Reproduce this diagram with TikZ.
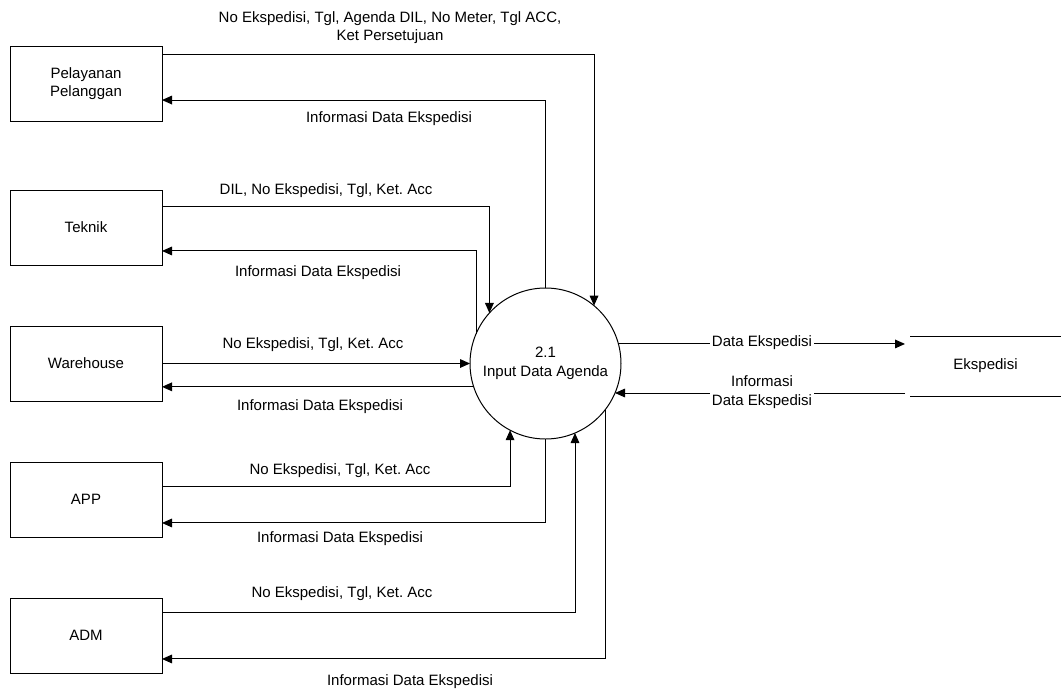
\documentclass[tikz,border=0pt]{standalone}
\usepackage{fontspec}
\setmainfont{Liberation Sans}
\usetikzlibrary{arrows.meta}
\frenchspacing
\begin{document}
\begin{tikzpicture}[x=0.75pt,y=-0.75pt,
  every node/.style={font=\fontsize{11.25}{14}\selectfont},
  entity/.style={draw, line width=0.75pt, minimum width=114pt, minimum height=56.25pt, inner sep=0pt, outer sep=0pt, align=center},
  proc/.style={draw, circle, line width=0.75pt, minimum size=113.25pt, inner sep=0pt, outer sep=0pt, align=center},
  flow/.style={line width=0.75pt, -{Triangle[length=7.5pt,width=6.5pt]}},
  lbl/.style={inner sep=1pt, align=center},
  onlbl/.style={inner sep=1.5pt, align=center, fill=white},
]
\useasboundingbox (0,0) rectangle (1061,693);
% entities
\node[entity] (pp) at (86,83.5) {Pelayanan\\Pelanggan};
\node[entity] (tk) at (86,227.5) {Teknik};
\node[entity] (wh) at (86,363.5) {Warehouse};
\node[entity] (app) at (86,499.5) {APP};
\node[entity] (adm) at (86,635.5) {ADM};
% process
\node[proc] (p) at (545.5,363.5) {2.1\\Input Data Agenda};
% data store
\node[minimum width=113.25pt, minimum height=45pt, inner sep=0pt, outer sep=0pt] (st) at (985.5,366) {Ekspedisi};
\draw[line width=0.75pt] (st.north west) -- (st.north east) (st.south west) -- (st.south east);
% flows
\draw[flow] ([yshift=-6pt]pp.north east) -| (p.50);
\draw[flow] (p.90) |- ([yshift=-12.4pt]pp.east);
\draw[flow] ([yshift=16.1pt]tk.east) -| (p.138.4);
\draw[flow] (p.157) |- ([yshift=-17.6pt]tk.east);
\draw[flow] (wh.east) -- (p.west);
\draw[flow] (p.198.1) -- (p.198.1 -| wh.east);
\draw[flow] ([yshift=9.4pt]app.east) -| (p.242.8);
\draw[flow] (p.270) |- ([yshift=-17.6pt]app.east);
\draw[flow] ([yshift=16.9pt]adm.east) -| (p.293);
\draw[flow] (p.323.2) |- ([yshift=-17.6pt]adm.east);
\coordinate (sin) at ([xshift=-3.75pt]p.15.75 -| st.west);
\coordinate (sout) at ([xshift=-3.75pt]p.337.8 -| st.west);
\draw[flow] (p.15.75) -- (sin);
\draw[flow] (sout) -- (p.337.8);
% labels
\node[lbl] (l1) at (390,27.5) {No Ekspedisi, Tgl, Agenda DIL, No Meter, Tgl ACC,\\Ket Persetujuan};
\node[lbl] (l2) at (389,119) {Informasi Data Ekspedisi};
\node[lbl] (l3) at (326,191) {DIL, No Ekspedisi, Tgl, Ket. Acc};
\node[lbl] (l4) at (318,273) {Informasi Data Ekspedisi};
\node[lbl] (l5) at (313,345) {No Ekspedisi, Tgl, Ket. Acc};
\node[lbl] (l6) at (320,407) {Informasi Data Ekspedisi};
\node[lbl] (l7) at (340,471) {No Ekspedisi, Tgl, Ket. Acc};
\node[lbl] (l8) at (340,539) {Informasi Data Ekspedisi};
\node[lbl] (l9) at (342,594) {No Ekspedisi, Tgl, Ket. Acc};
\node[lbl] (l10) at (410,682) {Informasi Data Ekspedisi};
\node[onlbl] (l11) at (762,343) {Data Ekspedisi};
\node[onlbl] (l12) at (762,392) {Informasi\\Data Ekspedisi};
\end{tikzpicture}
\end{document}
